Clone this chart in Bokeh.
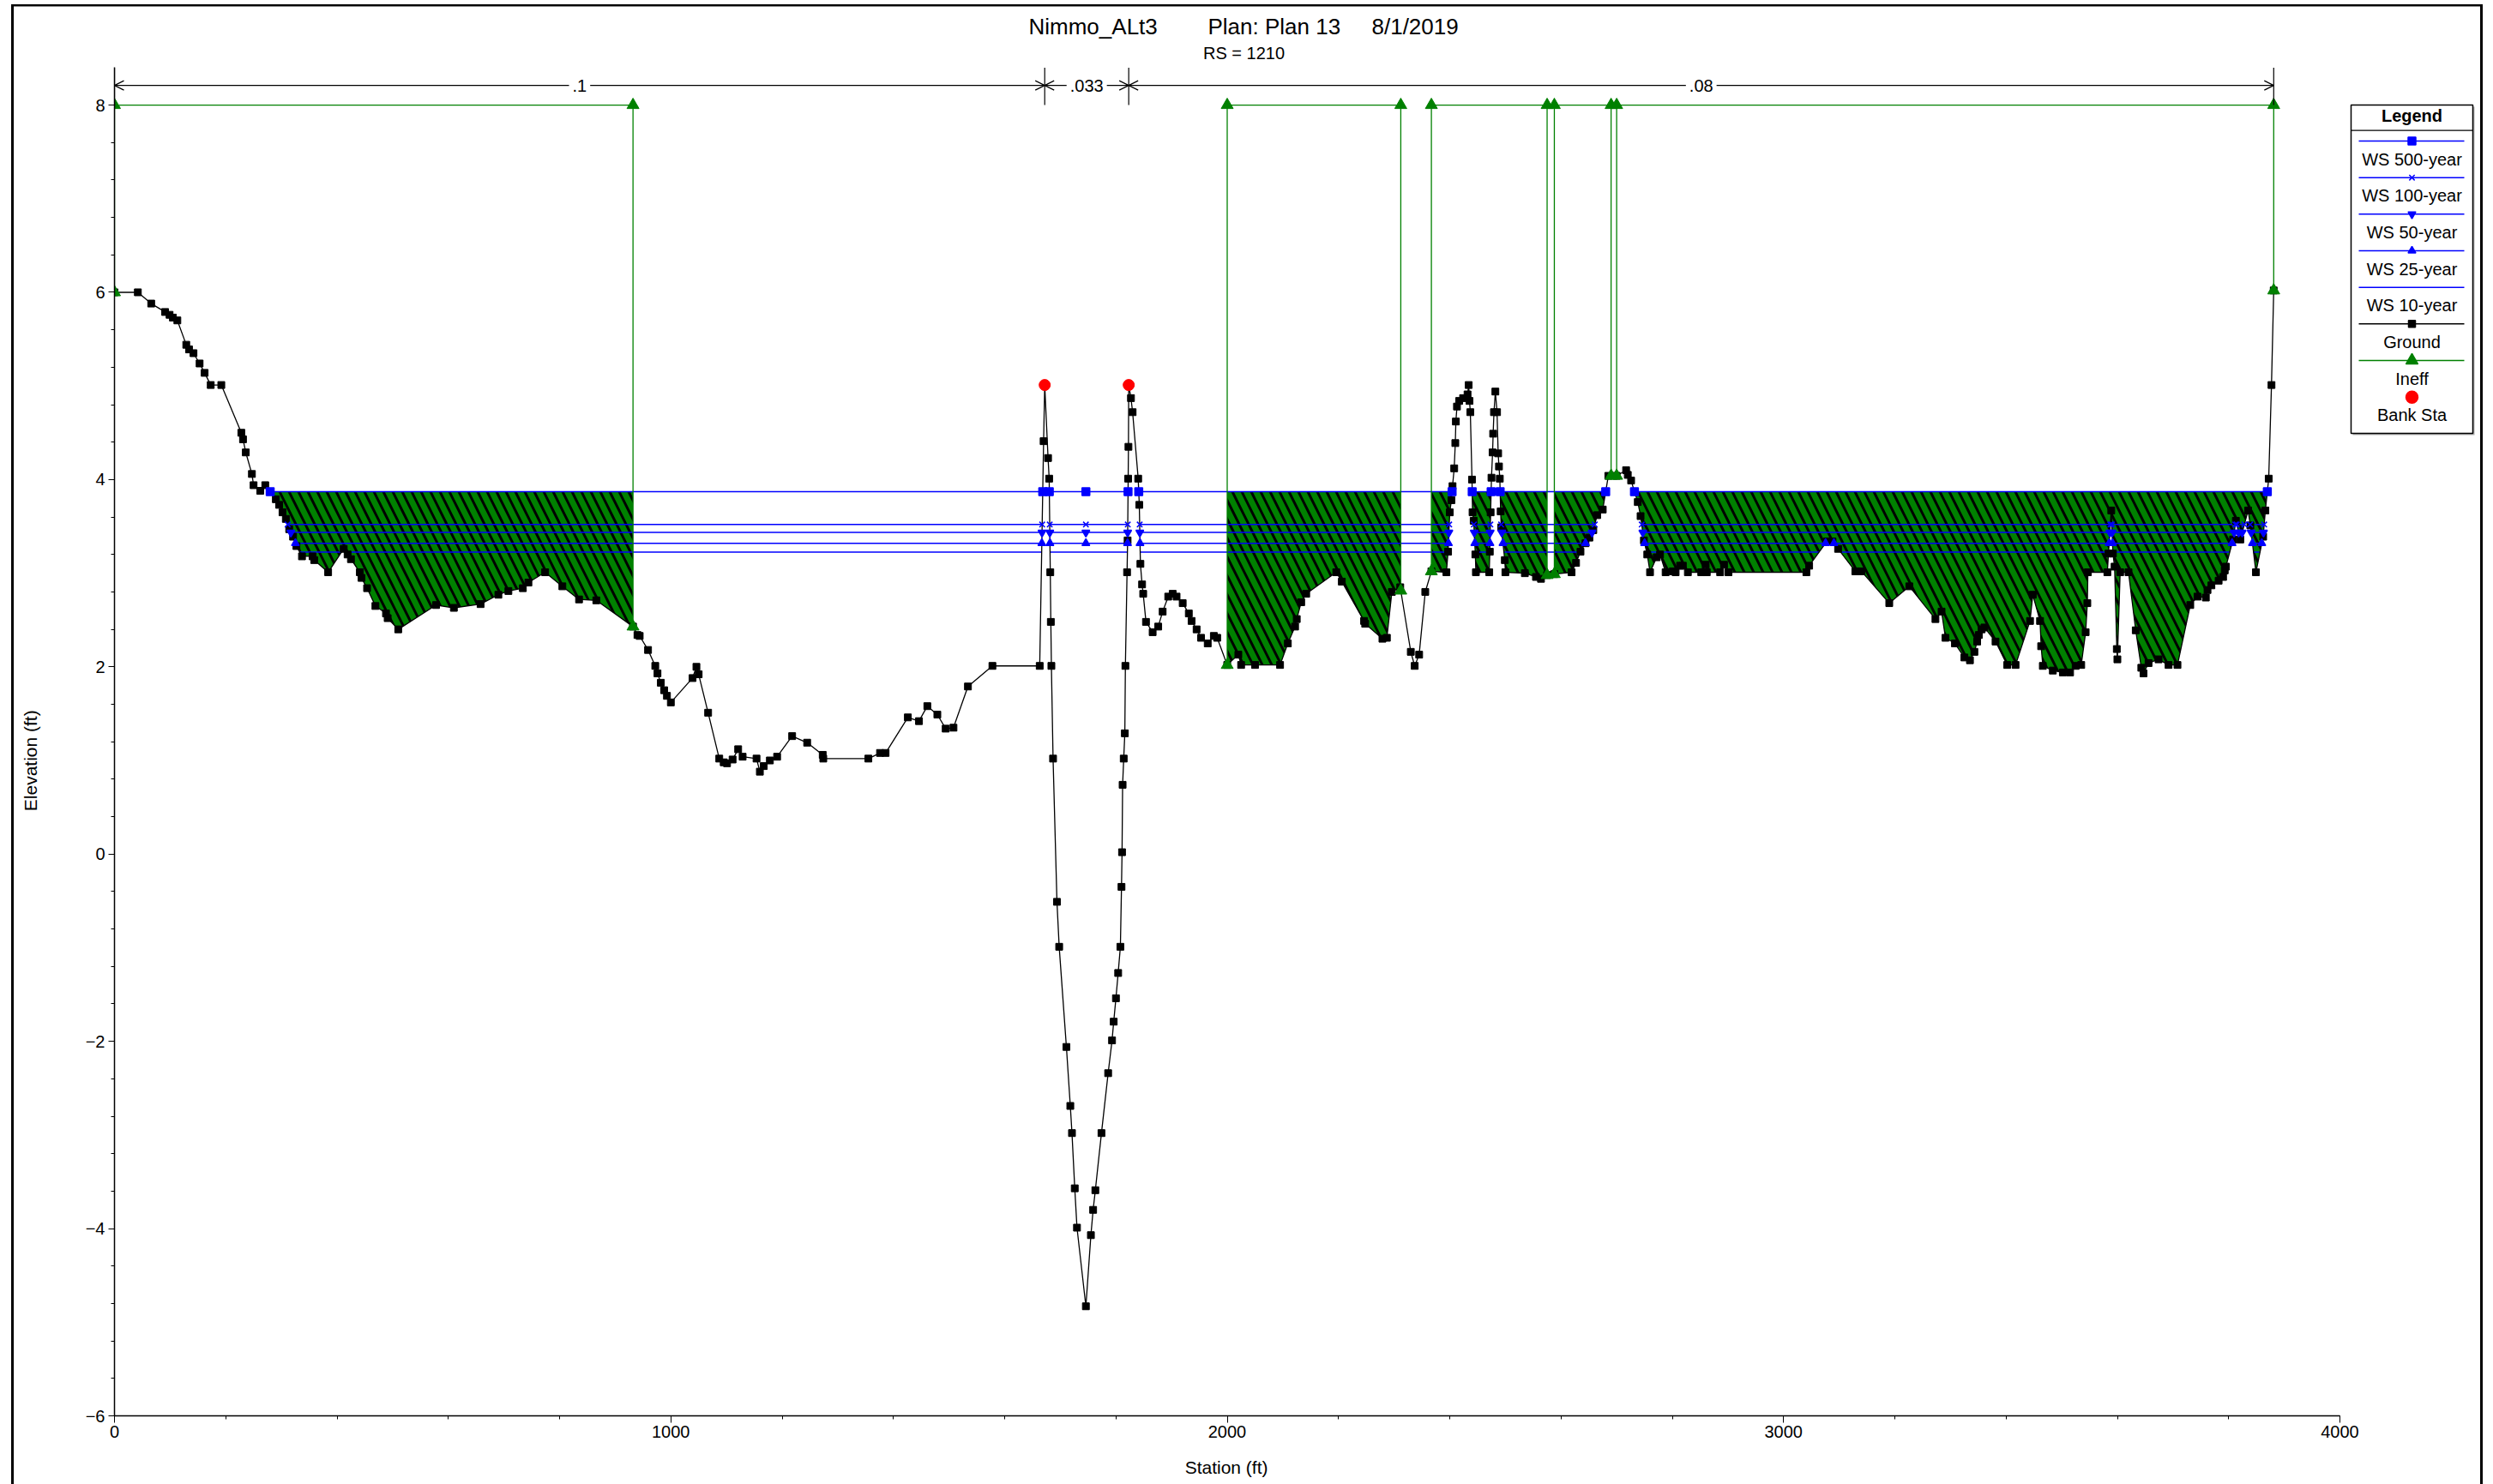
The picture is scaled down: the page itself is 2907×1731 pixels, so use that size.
import numpy as np
from bokeh.plotting import figure
from bokeh.models import Range1d, FixedTicker, Arrow, OpenHead, Label
from bokeh.core.properties import value
from bokeh.embed import file_html
from bokeh.resources import INLINE

# ---------------- data ----------------
STATION = [0, 42, 66, 91, 99, 105, 113, 129, 134, 142, 153, 162, 173, 192, 228, 231, 236, 247, 250, 262,
           271, 290, 296, 302, 308, 314, 321, 327, 337, 356, 359, 384, 412, 419, 425, 441, 444, 454, 469, 488,
           491, 510, 578, 610, 658, 690, 708, 734, 744, 774, 805, 835, 866, 932, 940, 944, 959, 972, 976, 982,
           988, 993, 1000, 1039, 1046, 1050, 1067, 1087, 1095, 1101, 1111, 1121, 1129, 1154, 1160, 1167, 1178,
           1191, 1218, 1245, 1273, 1274, 1355, 1376, 1386, 1426, 1446, 1461, 1479, 1494, 1508, 1534, 1578, 1663,
           1670, 1672, 1678, 1680, 1682, 1683, 1684, 1687, 1694, 1698, 1711, 1718, 1721, 1726, 1730, 1746, 1755,
           1759, 1763, 1774, 1786, 1793, 1796, 1800, 1804, 1808, 1810, 1811, 1812, 1814, 1816, 1817, 1820, 1821,
           1822, 1822.5, 1823, 1827, 1830, 1840, 1842, 1844, 1847, 1849, 1854, 1866, 1876, 1884, 1894, 1902, 1909,
           1920, 1931, 1936, 1945, 1953, 1965, 1976, 1982, 2000, 2020, 2025, 2050, 2095, 2109, 2122, 2125, 2133,
           2142, 2196, 2206, 2246, 2248, 2279, 2287, 2296, 2311, 2330, 2337, 2345, 2356, 2367, 2394, 2397, 2400,
           2403, 2405, 2408, 2410, 2411, 2413, 2417, 2424, 2432, 2434, 2435.5, 2437, 2440, 2441, 2443, 2446, 2447,
           2471, 2472, 2473.5, 2475, 2477, 2478, 2479.5, 2482, 2485, 2487, 2488.5, 2490, 2491.5, 2492.5, 2499, 2500,
           2535, 2555, 2564, 2575, 2588, 2619, 2627, 2635, 2644, 2651, 2658, 2665, 2675, 2685, 2700, 2717, 2720,
           2726, 2732, 2738, 2743, 2749, 2755, 2760, 2772, 2778, 2788, 2801, 2806, 2814, 2819, 2828, 2852, 2860,
           2862, 2886, 2893, 2901, 3041, 3046, 3078, 3088, 3098, 3129, 3140, 3190, 3226, 3273, 3284, 3291, 3308,
           3325, 3335, 3343, 3348, 3351, 3356, 3361, 3381, 3402, 3417, 3443, 3448, 3461, 3463, 3466, 3484, 3502,
           3515, 3525, 3535, 3543, 3546, 3547, 3582, 3584, 3589, 3592, 3595, 3599, 3600, 3605, 3620, 3633, 3643,
           3647, 3656, 3674, 3692, 3708, 3731, 3744, 3759, 3762, 3769, 3782, 3790, 3793, 3795, 3808, 3813, 3821,
           3835, 3839, 3849, 3862, 3866, 3872, 3877, 3881]
ELEVATION = [6.00, 6.00, 5.88, 5.79, 5.76, 5.73, 5.70, 5.44, 5.39, 5.35, 5.24, 5.14, 5.01, 5.01, 4.50, 4.43, 4.29, 4.06, 3.94, 3.88,
             3.94, 3.79, 3.73, 3.65, 3.58, 3.47, 3.39, 3.29, 3.18, 3.18, 3.14, 3.01, 3.26, 3.20, 3.15, 3.01, 2.95, 2.84, 2.65, 2.57,
             2.52, 2.40, 2.66, 2.63, 2.67, 2.77, 2.81, 2.84, 2.90, 3.01, 2.86, 2.72, 2.71, 2.43, 2.34, 2.33, 2.18, 2.01, 1.93, 1.83,
             1.75, 1.69, 1.62, 1.88, 2.00, 1.92, 1.51, 1.02, 0.98, 0.97, 1.01, 1.12, 1.04, 1.02, 0.88, 0.94, 1.00,
             1.04, 1.26, 1.19, 1.06, 1.02, 1.02, 1.08, 1.08, 1.46, 1.42, 1.58, 1.49, 1.34, 1.35, 1.79, 2.01, 2.01,
             4.41, 5.01, 4.23, 4.01, 3.01, 2.48, 2.01, 1.02, -0.51, -0.99, -2.06, -2.69, -2.98, -3.57, -3.99, -4.83, -4.07,
             -3.80, -3.59, -2.98, -2.34, -1.99, -1.79, -1.54, -1.27, -0.99, -0.35, 0.02, 0.74, 1.02, 1.29, 2.01, 3.01, 3.35,
             4.01, 4.35, 5.01, 4.87, 4.72, 4.01, 3.73, 3.10, 2.88, 2.78, 2.48, 2.37, 2.43, 2.59, 2.75, 2.78, 2.75,
             2.68, 2.57, 2.49, 2.40, 2.31, 2.25, 2.33, 2.31, 2.02, 2.13, 2.02, 2.02, 2.02, 2.25, 2.43, 2.51, 2.69,
             2.78, 3.01, 2.91, 2.49, 2.46, 2.30, 2.31, 2.80, 2.85, 2.16, 2.01, 2.13, 2.80, 3.02, 3.01, 3.23, 3.65,
             3.78, 3.93, 4.12, 4.39, 4.62, 4.78, 4.84, 4.87, 4.91, 5.01, 4.84, 4.72, 4.00, 3.65, 3.56, 3.20, 3.01,
             3.01, 3.23, 3.65, 4.02, 4.29, 4.49, 4.72, 4.94, 4.72, 4.28, 4.14, 4.01, 3.66, 3.49, 3.14, 3.01,
             3.00, 2.96, 2.94, 2.98, 2.99, 3.01, 3.11, 3.23, 3.32, 3.38, 3.46, 3.62, 3.68, 4.04, 4.04, 4.10, 4.05,
             3.99, 3.87, 3.76, 3.61, 3.35, 3.20, 3.01, 3.17, 3.20, 3.01, 3.02, 3.01, 3.08, 3.08, 3.01, 3.01, 3.09,
             3.01, 3.01, 3.09, 3.01, 3.01, 3.08, 3.34, 3.34, 3.26, 3.02, 3.02, 2.68, 2.86, 2.51, 2.59, 2.31, 2.25,
             2.10, 2.07, 2.16, 2.27, 2.34, 2.40, 2.42, 2.27, 2.02, 2.02, 2.49, 2.77, 2.49, 2.22, 2.01, 1.96, 1.94,
             1.94, 2.01, 2.02, 2.37, 2.68, 3.01, 3.01, 3.21, 3.67, 3.21, 3.07, 2.19, 2.08, 3.01, 3.01, 2.39, 1.99,
             1.93, 2.04, 2.08, 2.02, 2.02, 2.66, 2.75, 2.74, 2.82, 2.87, 2.92, 2.96, 3.03, 3.07, 3.36, 3.56, 3.36,
             3.67, 3.51, 3.01, 3.39, 3.67, 4.01, 5.01, 6.02]

BANK_STA = [1672, 1823]

WS_NAMES = ["WS 500-year", "WS 100-year", "WS 50-year", "WS 25-year", "WS 10-year"]
WS_ELEV = [3.87, 3.52, 3.435, 3.32, 3.225]
WS_MARKER = ["square", "x", "inverted_triangle", "triangle", None]

INEFF_LEFT = [0, 2000, 2367, 2588, 2700]
INEFF_RIGHT = [932, 2312, 2575, 2690, 3881]
INEFF_ELEV = [8.0, 8.0, 8.0, 8.0, 8.0]

N_LEFT = [0, 1672, 1823]
N_RIGHT = [1672, 1823, 3881]
N_VALUE = [".1", ".033", ".08"]

TITLE_PARTS = ["Nimmo_ALt3", "Plan: Plan 13", "8/1/2019"]
SUBTITLE = "RS = 1210"
X_LABEL = "Station (ft)"
Y_LABEL = "Elevation (ft)"
X_TICKS = [0, 1000, 2000, 3000, 4000]
Y_TICKS = [-6, -4, -2, 0, 2, 4, 6, 8]

# ---------------- layout (pixels) ----------------
W, H = 2907, 1731
LB, BB = 133, 80
FW, FH = W - LB, H - BB
PX_X = 2595.0 / (X_TICKS[-1] - X_TICKS[0])
PX_Y = 109.21
x_end = X_TICKS[0] + FW / PX_X
y_top = Y_TICKS[0] + FH / PX_Y

FONT = "Liberation Sans"
GREEN = "#008000"
BLUE = "#0000ff"
NBSP = "\u00a0"
SPACE_W = 0.278 * 21  # width of a space at 21px

p = figure(width=W, height=H, x_range=Range1d(X_TICKS[0], x_end), y_range=Range1d(Y_TICKS[0], y_top),
           output_backend="svg", toolbar_location=None,
           min_border_left=LB, min_border_right=0, min_border_top=0, min_border_bottom=BB)
p.extra_x_ranges = {"px": Range1d(0, FW)}
p.extra_y_ranges = {"py": Range1d(FH, 0)}
p.grid.visible = False
p.outline_line_color = None
p.background_fill_color = None
p.border_fill_color = None
# window frame lines of the original screenshot (left, top, right)
p.styles = {"background": "linear-gradient(#000,#000) 13px 5px / 3px 100% no-repeat, "
                          "linear-gradient(#000,#000) 13px 5px / 2882px 2px no-repeat, "
                          "linear-gradient(#888,#888) 16px 7px / 2876px 1px no-repeat, "
                          "linear-gradient(#000,#000) 2892px 5px / 3px 100% no-repeat, #ffffff"}

for ax in (p.xaxis[0], p.yaxis[0]):
    ax.axis_line_color = "black"
    ax.axis_line_width = 1.5
    ax.major_tick_line_color = "black"
    ax.minor_tick_line_color = "black"
    ax.major_tick_in = 0
    ax.minor_tick_in = 0
    ax.major_label_text_font = FONT
    ax.major_label_text_font_size = "20px"
    ax.major_label_text_color = "black"
    ax.axis_label_text_font = FONT
    ax.axis_label_text_font_size = "21px"
    ax.axis_label_text_font_style = "normal"
    ax.axis_label_text_color = "black"

xa = p.xaxis[0]
xa.bounds = (X_TICKS[0], X_TICKS[-1])
xa.ticker = FixedTicker(ticks=X_TICKS, minor_ticks=list(np.arange(X_TICKS[0], X_TICKS[-1] + 1, 200)))
xa.major_tick_out = 8
xa.minor_tick_out = 4
xa.major_label_standoff = 3
# centre the title under the axis extent rather than under the whole frame
x_shift = (LB + FW / 2) - (LB + (X_TICKS[0] + X_TICKS[-1]) / 2 * PX_X)
xa.axis_label = X_LABEL + NBSP * int(round(2 * x_shift / SPACE_W))
xa.axis_label_standoff = 20

ya = p.yaxis[0]
ya.bounds = (Y_TICKS[0], Y_TICKS[-1] + 0.4)
ya.ticker = FixedTicker(ticks=Y_TICKS, minor_ticks=[round(v, 1) for v in np.arange(Y_TICKS[0], Y_TICKS[-1] + 0.01, 0.4)])
ya.major_tick_out = 7
ya.minor_tick_out = 4
ya.major_label_standoff = 4
y_shift = (FH - (((Y_TICKS[0] + Y_TICKS[-1]) / 2) - Y_TICKS[0]) * PX_Y) - FH / 2
ya.axis_label = Y_LABEL + NBSP * int(round(2 * y_shift / SPACE_W))
ya.axis_label_standoff = 50

st = np.array(STATION, dtype=float)
el = np.array(ELEVATION, dtype=float)


def ground(s):
    return np.interp(s, st, el)


def crossings(level, lo, hi):
    out = []
    for i in range(len(st) - 1):
        a, b = el[i] - level, el[i + 1] - level
        if (a < 0) != (b < 0):
            s = st[i] + (level - el[i]) / (el[i + 1] - el[i]) * (st[i + 1] - st[i])
            if lo < s < hi:
                out.append(s)
    return out


# ---- ineffective flow fill (hatched) ----
L500 = WS_ELEV[0]
for a, b in zip(INEFF_LEFT, INEFF_RIGHT):
    xs = sorted(set([a, b] + [s for s in STATION if a < s < b] + crossings(L500, a, b)))
    yg = ground(xs)
    y1 = np.minimum(yg, L500)
    p.varea(x=xs, y1=y1, y2=np.full(len(xs), L500), fill_color=GREEN,
            hatch_pattern="left_diagonal_line", hatch_color="black", hatch_weight=3, hatch_scale=22)

# ---- water surfaces ----
thalweg = float(st[np.argmin(el)])
ws_marks = []
for name, lev, mk in zip(WS_NAMES, WS_ELEV, WS_MARKER):
    c = crossings(lev, -1, 1e9)
    segs_x = [[c[i], c[i + 1]] for i in range(0, len(c) - 1, 2)]
    segs_y = [[lev, lev] for _ in segs_x]
    p.multi_line(xs=segs_x, ys=segs_y, line_color=BLUE, line_width=1.5)
    if mk is not None:
        mx = c + [thalweg]
        ws_marks.append((mx, [lev] * len(mx), mk))

# ---- ineffective flow boundaries ----
ix, iy, tx, ty = [], [], [], []
for a, b, e in zip(INEFF_LEFT, INEFF_RIGHT, INEFF_ELEV):
    ga, gb = float(ground(a)), float(ground(b))
    ix.append([a, a, b, b])
    iy.append([ga, e, e, gb])
    tx += [a, a, b, b]
    ty += [ga, e, e, gb]
p.multi_line(xs=ix, ys=iy, line_color=GREEN, line_width=1.3)

# ---- ground ----
p.line(STATION, ELEVATION, line_color="black", line_width=1.3)
p.scatter(STATION, ELEVATION, marker="square", size=8, color="black")

for mx, my, mk in ws_marks:
    p.scatter(mx, my, marker=mk, size=9, color=BLUE, line_width=1.5)

p.scatter(tx, ty, marker="triangle", size=14, color=GREEN)
p.scatter(BANK_STA, list(ground(BANK_STA)), marker="circle", size=13, color="red")

# ---- Manning's n annotation ----
NY = max(INEFF_ELEV) + 0.21
bnds = sorted(set(N_LEFT + N_RIGHT))
p.segment(x0=bnds, y0=[max(INEFF_ELEV)] * len(bnds), x1=bnds, y1=[max(INEFF_ELEV) + 0.4] * len(bnds),
          line_color="black", line_width=1.2)
for l, r in zip(N_LEFT, N_RIGHT):
    p.add_layout(Arrow(start=OpenHead(size=11, line_width=1.2, line_color="black"),
                       end=OpenHead(size=11, line_width=1.2, line_color="black"),
                       x_start=l, y_start=NY, x_end=r, y_end=NY, line_color="black", line_width=1.2))
for l, r, t in zip(N_LEFT, N_RIGHT, N_VALUE):
    p.add_layout(Label(x=(l + r) / 2, y=NY, text=t, text_align="center", text_baseline="middle",
                       text_font=FONT, text_font_size="20px", text_color="black",
                       background_fill_color="white", padding=4))

# ---- titles (pixel coordinates inside frame) ----
p.text(x=[1066, 1275, 1466], y=[30, 30, 30], text=TITLE_PARTS, x_range_name="px", y_range_name="py",
       text_font=value(FONT), text_font_size="26px", text_align="left", text_baseline="middle",
       text_color="black")
p.text(x=[1317], y=[61.5], text=[SUBTITLE], x_range_name="px", y_range_name="py",
       text_font=value(FONT), text_font_size="20px", text_align="center", text_baseline="middle",
       text_color="black")

# ---- legend (pixel coordinates) ----
LEG_L, LEG_R, LEG_T, LEG_B = 2608, 2750, 122, 505
LEG_CX = (LEG_L + LEG_R) / 2
p.quad(left=[LEG_L + 2], right=[LEG_R + 2], top=[LEG_T + 2], bottom=[LEG_B + 2], fill_color="#b0b0b0",
       line_color=None, x_range_name="px", y_range_name="py")
p.quad(left=[LEG_L], right=[LEG_R], top=[LEG_T], bottom=[LEG_B], fill_color="white", line_color="black",
       line_width=1.5, x_range_name="px", y_range_name="py")
p.segment(x0=[LEG_L], y0=[151.7], x1=[LEG_R], y1=[151.7], line_color="black", line_width=1.2,
          x_range_name="px", y_range_name="py")
p.text(x=[LEG_CX], y=[134], text=["Legend"], x_range_name="px", y_range_name="py",
       text_font=value(FONT), text_font_size="20px", text_font_style="bold", text_align="center",
       text_baseline="middle", text_color="black")

leg_items = [(n, BLUE, m, 9) for n, m in zip(WS_NAMES, WS_MARKER)]
leg_items += [("Ground", "black", "square", 8), ("Ineff", GREEN, "triangle", 14), ("Bank Sta", None, "circle", 14)]
for i, (name, col, mk, sz) in enumerate(leg_items):
    yl = 164 + 42.67 * i
    if col is not None:
        p.line([LEG_L + 9, LEG_R - 10], [yl, yl], line_color=col, line_width=1.5,
               x_range_name="px", y_range_name="py")
    if mk is not None:
        p.scatter([LEG_CX], [yl], marker=mk, size=sz, color=col if col else "red", line_width=1.5,
                  x_range_name="px", y_range_name="py")
    p.text(x=[LEG_CX], y=[yl + 21], text=[name], x_range_name="px", y_range_name="py",
           text_font=value(FONT), text_font_size="20px", text_align="center", text_baseline="middle",
           text_color="black")

open("out.html", "w").write(file_html(p, INLINE))
